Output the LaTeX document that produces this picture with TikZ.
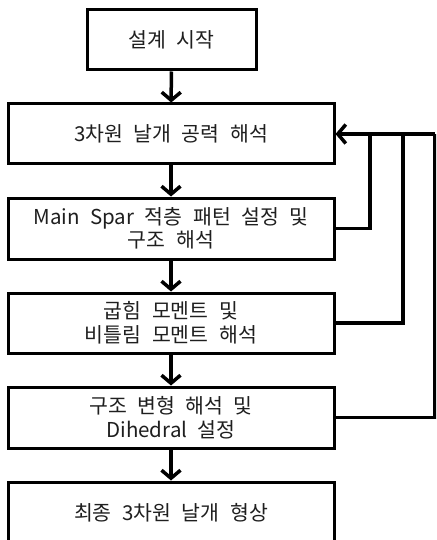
\documentclass[tikz,border=0pt]{standalone}
\usepackage{fontspec}
\newfontfamily\kr[WordSpace=2.3]{Noto Sans CJK KR}
\usetikzlibrary{arrows.meta}
\tikzset{
  box/.style={draw=black, line width=3pt, fill=white, align=center,
    font=\kr\fontsize{20.5}{23.5}\selectfont, text=black!88, inner sep=0pt},
  flow/.style={line width=3.5pt, -{Straight Barb[length=8pt,width=19pt]}},
  fb/.style={line width=3.5pt},
}
\begin{document}
\begin{tikzpicture}[x=1pt,y=-1pt]
\useasboundingbox (0,0) rectangle (436,540);
\clip (0,0) rectangle (436,540);
\node[box, minimum width=169, minimum height=60] (b1) at (171.5,40) {설계 시작};
\node[box, minimum width=326, minimum height=60] (b2) at (171,134) {3차원 날개 공력 해석};
\node[box, minimum width=326, minimum height=61] (b3) at (171,228.5) {Main Spar 적층 패턴 설정 및\\구조 해석};
\node[box, minimum width=326, minimum height=60] (b4) at (171,323) {굽힘 모멘트 및\\비틀림 모멘트 해석};
\node[box, minimum width=326, minimum height=61] (b5) at (171,417.5) {구조 변형 해석 및\\Dihedral 설정};
\node[box, minimum width=326, minimum height=62] (b6) at (171,513) {최종 3차원 날개 형상};
\draw[flow] (b1) -- (b2);
\draw[flow] (b2) -- (b3);
\draw[flow] (b3) -- (b4);
\draw[flow] (b4) -- (b5);
\draw[flow] (b5) -- (b6);
\coordinate (c3) at (370,0);
\coordinate (c4) at (403,0);
\coordinate (c5) at (435,0);
\draw[fb] (b3.east) -| (c3 |- b2.east);
\draw[fb] (b4.east) -| (c4 |- b2.east);
\draw[fb] (b5.east) -| (c5 |- b2.east);
\draw[flow] (c5 |- b2.east) -- (b2.east);
\end{tikzpicture}
\end{document}
